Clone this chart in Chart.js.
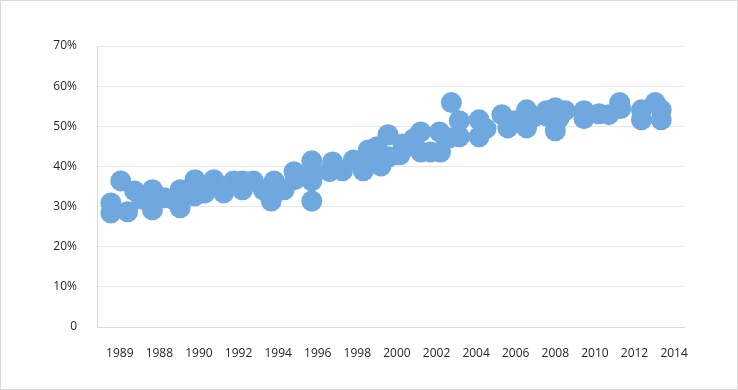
<!DOCTYPE html>
<html>
<head>
<meta charset="utf-8">
<script src="https://cdn.jsdelivr.net/npm/chart.js@4/dist/chart.umd.min.js"></script>
<style>
  html, body { margin: 0; padding: 0; background: #fff; }
  #wrap { width: 738px; height: 390px; position: relative; }
</style>
</head>
<body>
<div id="wrap"><canvas id="chart" width="738" height="390"></canvas></div>
<script>
// Data
const years = [
    1985.55, 1985.55, 1986.05, 1986.4, 1986.75, 1987.1, 1987.65, 1987.65, 1988.25, 1988.65,
    1989.05, 1989.05, 1989.8, 1989.8, 1990.3, 1990.75, 1991.25, 1991.75, 1992.2, 1992.2,
    1992.75, 1993.25, 1993.65, 1993.8, 1993.9, 1994.3, 1994.8, 1994.85, 1995.7, 1995.7,
    1995.7, 1995.7, 1996.6, 1996.75, 1997.25, 1997.8, 1998.3, 1998.55, 1998.8, 1999.0,
    1999.2, 1999.55, 1999.6, 2000.15, 2000.3, 2000.65, 2000.85, 2001.2, 2001.2, 2001.7,
    2002.15, 2002.2, 2002.75, 2002.65, 2003.15, 2003.15, 2004.15, 2004.15, 2004.5, 2005.3,
    2005.6, 2005.95, 2006.55, 2006.55, 2006.95, 2007.55, 2007.55, 2008.0, 2008.0, 2008.2,
    2008.5, 2009.45, 2009.45, 2010.2, 2010.7, 2011.25, 2011.3, 2012.35, 2012.35, 2013.05,
    2013.35, 2013.35
];
const shares = [
    30.9, 28.4, 36.4, 28.7, 33.9, 31.9, 34.2, 29.2, 32.2, 31.9,
    34.2, 29.7, 36.7, 32.7, 33.4, 36.7, 33.4, 36.4, 36.4, 34.2,
    36.4, 34.2, 31.4, 36.4, 33.7, 34.2, 38.7, 36.7, 41.4, 38.9,
    36.4, 31.4, 38.7, 41.1, 38.9, 41.6, 38.9, 44.1, 41.9, 44.9,
    40.1, 47.9, 42.4, 42.9, 45.6, 45.1, 46.9, 43.6, 48.6, 43.6,
    48.6, 43.6, 55.9, 47.1, 51.4, 47.4, 51.6, 47.4, 49.4, 52.9,
    49.6, 51.4, 54.1, 49.6, 52.4, 52.6, 53.9, 54.6, 48.9, 52.1,
    53.9, 53.9, 51.9, 53.1, 52.9, 55.9, 54.4, 54.1, 51.6, 55.9,
    54.1, 51.6
];
const xTickValues = [1986, 1988, 1990, 1992, 1994, 1996, 1998, 2000, 2002, 2004, 2006, 2008, 2010, 2012, 2014];
const xTickLabels = ['1989', '1988', '1990', '1992', '1994', '1996', '1998', '2000', '2002', '2004', '2006', '2008', '2010', '2012', '2014'];

const points = years.map((y, i) => ({ x: y, y: shares[i] }));

// thin frame around the whole chart
const framePlugin = {
    id: 'frame',
    afterDraw(chart) {
        const ctx = chart.ctx;
        ctx.save();
        ctx.strokeStyle = '#d9d9d9';
        ctx.lineWidth = 1;
        ctx.strokeRect(0.5, 0.5, chart.width - 1, chart.height - 1);
        ctx.restore();
    }
};

const tickFont = { family: "'Open Sans', 'Noto Sans', sans-serif", size: 12 };

new Chart(document.getElementById('chart'), {
    type: 'scatter',
    data: {
        datasets: [{
            data: points,
            backgroundColor: '#6fa8df',
            borderColor: '#6fa8df',
            borderWidth: 0,
            pointRadius: 10.5,
            pointHoverRadius: 10.5
        }]
    },
    options: {
        responsive: false,
        animation: false,
        layout: { padding: { left: 0, top: 46, right: 54, bottom: 0 } },
        plugins: {
            legend: { display: false },
            tooltip: { enabled: false }
        },
        scales: {
            x: {
                type: 'linear',
                min: 1984.85,
                max: 2014.5,
                afterBuildTicks: (scale) => {
                    scale.ticks = xTickValues.map(v => ({ value: v }));
                },
                afterFit: (scale) => { scale.height = 63; },
                grid: { display: false, drawTicks: false },
                border: { display: true, color: '#d9d9d9' },
                ticks: {
                    padding: 19,
                    color: '#262626',
                    font: tickFont,
                    maxRotation: 0,
                    autoSkip: false,
                    callback: (v) => {
                        const i = xTickValues.indexOf(v);
                        return i >= 0 ? xTickLabels[i] : '';
                    }
                }
            },
            y: {
                min: 0,
                max: 70,
                afterFit: (scale) => { scale.width = 97; },
                grid: { color: '#e6e6e6', drawTicks: false },
                border: { display: true, color: '#d9d9d9' },
                ticks: {
                    stepSize: 10,
                    padding: 20,
                    color: '#262626',
                    font: tickFont,
                    callback: (v) => v === 0 ? '0' : v + '%'
                }
            }
        }
    },
    plugins: [framePlugin]
});
</script>
</body>
</html>
